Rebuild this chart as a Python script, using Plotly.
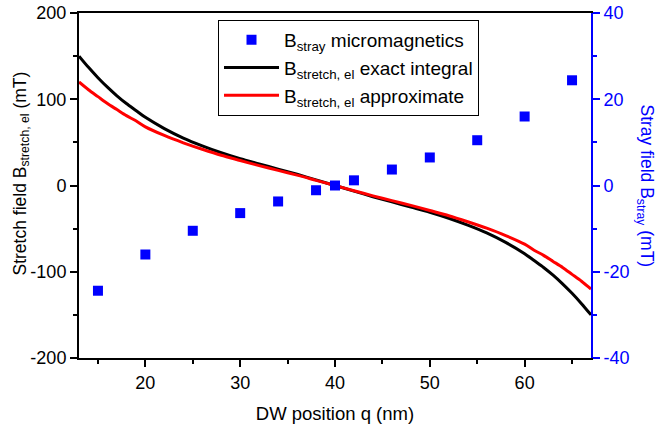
import plotly.graph_objects as go

# Micromagnetic stray field (right axis, mT)
q_stray = [15, 20, 25, 30, 34, 38, 40, 42, 46, 50, 55, 60, 65]
b_stray = [-24.4, -16.0, -10.5, -6.4, -3.7, -1.1, 0.0, 1.2, 3.7, 6.5, 10.5, 16.0, 24.4]

# Stretch field curves (left axis, mT)
q_curve = [13, 14, 15, 16, 17, 18, 19, 20, 22, 24, 26, 28, 30, 32, 34, 36, 38, 40,
           42, 44, 46, 48, 50, 52, 54, 56, 58, 60, 61, 62, 63, 64, 65, 66, 67]
b_exact = [150, 137, 125, 114, 104, 95, 87, 79, 66, 55, 46, 38, 31, 25, 19, 13, 6.5, 0,
           -6.5, -13, -19, -25, -31, -38, -46, -55, -66, -79, -87, -95, -104, -114, -125, -137, -150]
b_approx = [120, 111, 103, 95, 88, 81, 75, 68, 58, 49.5, 42, 35, 29, 23, 17.5, 12, 6, 0,
            -6, -12, -17.5, -23, -29, -35, -42, -49.5, -58, -68, -75, -81, -88, -95, -103, -111, -120]

# Tick labels
x_ticks = [20, 30, 40, 50, 60]
y_ticks = [-200, -100, 0, 100, 200]
y2_ticks = [-40, -20, 0, 20, 40]

FONT = "Liberation Sans, Arial, sans-serif"

fig = go.Figure()
fig.add_trace(go.Scatter(
    x=q_stray, y=b_stray, mode="markers", yaxis="y2",
    marker=dict(symbol="square", size=10, color="#0000FF"),
    name="B<sub>stray</sub> micromagnetics"))
fig.add_trace(go.Scatter(
    x=q_curve, y=b_exact, mode="lines", line=dict(color="black", width=3, shape="spline", smoothing=0.8),
    name="B<sub>stretch, el</sub> exact integral"))
fig.add_trace(go.Scatter(
    x=q_curve, y=b_approx, mode="lines", line=dict(color="#FF0000", width=3, shape="spline", smoothing=0.8),
    name="B<sub>stretch, el</sub> approximate"))

fig.update_layout(
    width=656, height=430,
    margin=dict(l=79, r=65, t=13, b=72),
    paper_bgcolor="white", plot_bgcolor="white",
    font=dict(family=FONT, size=18, color="black"),
    showlegend=True,
    legend=dict(x=0.2715, y=0.98, xanchor="left", yanchor="top",
                bordercolor="black", borderwidth=1, bgcolor="white",
                font=dict(size=19), tracegroupgap=0, itemwidth=55),
    xaxis=dict(range=[13, 67], tickvals=x_ticks, ticktext=[str(v) for v in x_ticks],
               ticks="outside", ticklen=7, tickwidth=2, tickcolor="black",
               minor=dict(tickvals=[15, 25, 35, 45, 55, 65], ticks="outside", ticklen=4,
                          tickwidth=2, tickcolor="black"),
               showline=True, linecolor="black", linewidth=2, mirror=True,
               showgrid=False, zeroline=False, automargin=False,
               title=dict(text="DW position q (nm)", standoff=15, font=dict(size=18.5)),
               tickfont=dict(size=18)),
    yaxis=dict(range=[-200, 200], tickvals=y_ticks, ticktext=[str(v) for v in y_ticks],
               ticks="outside", ticklen=7, tickwidth=2, tickcolor="black",
               minor=dict(tickvals=[-150, -50, 50, 150], ticks="outside", ticklen=4,
                          tickwidth=2, tickcolor="black"),
               showline=True, linecolor="black", linewidth=2,
               showgrid=False, zeroline=False, automargin=False,
               tickfont=dict(size=18)),
    yaxis2=dict(range=[-40, 40], tickvals=y2_ticks, ticktext=[str(v) for v in y2_ticks],
                overlaying="y", side="right",
                ticks="outside", ticklen=7, tickwidth=2, tickcolor="#0000FF",
                minor=dict(tickvals=[-30, -10, 10, 30], ticks="outside", ticklen=4,
                           tickwidth=2, tickcolor="#0000FF"),
                showline=True, linecolor="#0000FF", linewidth=2,
                showgrid=False, zeroline=False, automargin=False,
                tickfont=dict(size=18, color="#0000FF")),
    annotations=[
        dict(text="Stretch field B<sub>stretch, el</sub> (mT)", xref="paper", yref="paper",
             x=0.0, xanchor="center", xshift=-58, y=0.5, yanchor="middle", yshift=12,
             showarrow=False, textangle=-90, font=dict(size=17.5, color="black")),
        dict(text="Stray field B<sub>stray</sub> (mT)", xref="paper", yref="paper",
             x=1.0, xanchor="center", xshift=54, y=0.5, yanchor="middle",
             showarrow=False, textangle=90, font=dict(size=17.5, color="#0000FF")),
    ],
)

fig.write_html("out.html", config={"displayModeBar": False},
               post_script="document.body.style.margin='0';")
